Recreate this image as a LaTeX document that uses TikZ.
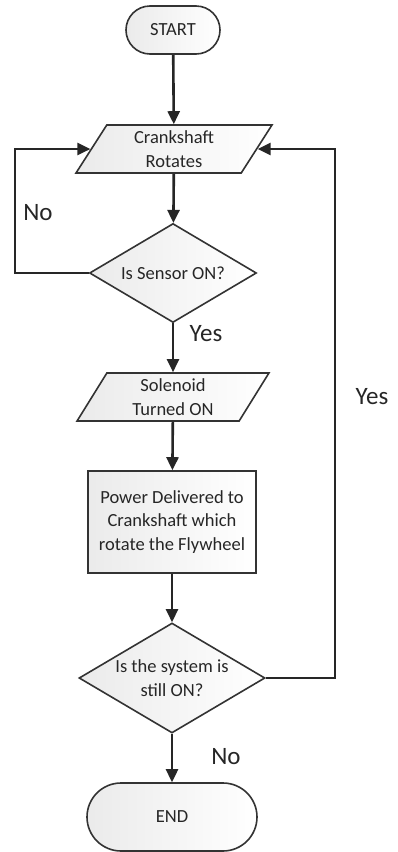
\documentclass[tikz,border=0pt]{standalone}
\usepackage{fontspec}
\setmainfont{Carlito}
\usetikzlibrary{shapes.geometric,shapes.misc,arrows.meta}
\begin{document}
\begin{tikzpicture}[x=1pt,y=-1pt,
  every node/.style={text=black!85, font=\fontsize{18.5}{23.5}\selectfont},
  shapebase/.style={draw=black!80, line width=1.6pt, left color=black!8, right color=white, inner sep=0pt, align=center},
  terminal/.style={shapebase, rounded rectangle},
  io/.style={shapebase, trapezium, trapezium left angle=63.4, trapezium right angle=116.6, trapezium stretches=true},
  process/.style={shapebase, rectangle},
  decision/.style={shapebase, diamond, aspect=1.7},
  conn/.style={draw=black!85, line width=2.6pt, -{Triangle[length=13pt,width=12pt]}},
  lbl/.style={font=\fontsize{25}{30}\selectfont}
]
\useasboundingbox (0,0) rectangle (397,852);

% flow nodes
\node[terminal, minimum width=94, minimum height=48] (start) at (173,30) {START};
\node[io, minimum width=196, minimum height=48] (crank) at (174,149) {Crankshaft\\Rotates};
\node[decision, minimum width=167, minimum height=99] (sensor) at (173,273) {Is Sensor ON?};
\node[io, minimum width=192, minimum height=48] (sol) at (173,397) {Solenoid\\Turned ON};
\node[process, minimum width=168, minimum height=102] (power) at (172,522) {Power Delivered to\\Crankshaft which\\rotate the Flywheel};
\node[decision, minimum width=186, minimum height=110] (sys) at (172,678) {Is the system is\\still ON?};
\node[terminal, minimum width=170, minimum height=68] (end) at (172,817) {END};

% loop rails
\coordinate (lx) at (15,0);
\coordinate (rx) at (335,0);

% connectors
\draw[conn] (start) -- (crank);
\draw[conn] (crank) -- (sensor);
\draw[conn] (sensor) -- (sol);
\draw[conn] (sol) -- (power);
\draw[conn] (power) -- (sys);
\draw[conn] (sys) -- (end);
\draw[conn] (sensor.west) -- (sensor.west -| lx) |- (crank.west);
\draw[conn] (sys.east) -- (sys.east -| rx) |- (crank.east);

% branch labels
\node[lbl] (no1) at (38,213) {No};
\node[lbl] (yes1) at (206,334) {Yes};
\node[lbl] (yes2) at (372,397) {Yes};
\node[lbl] (no2) at (226,757) {No};
\end{tikzpicture}
\end{document}
